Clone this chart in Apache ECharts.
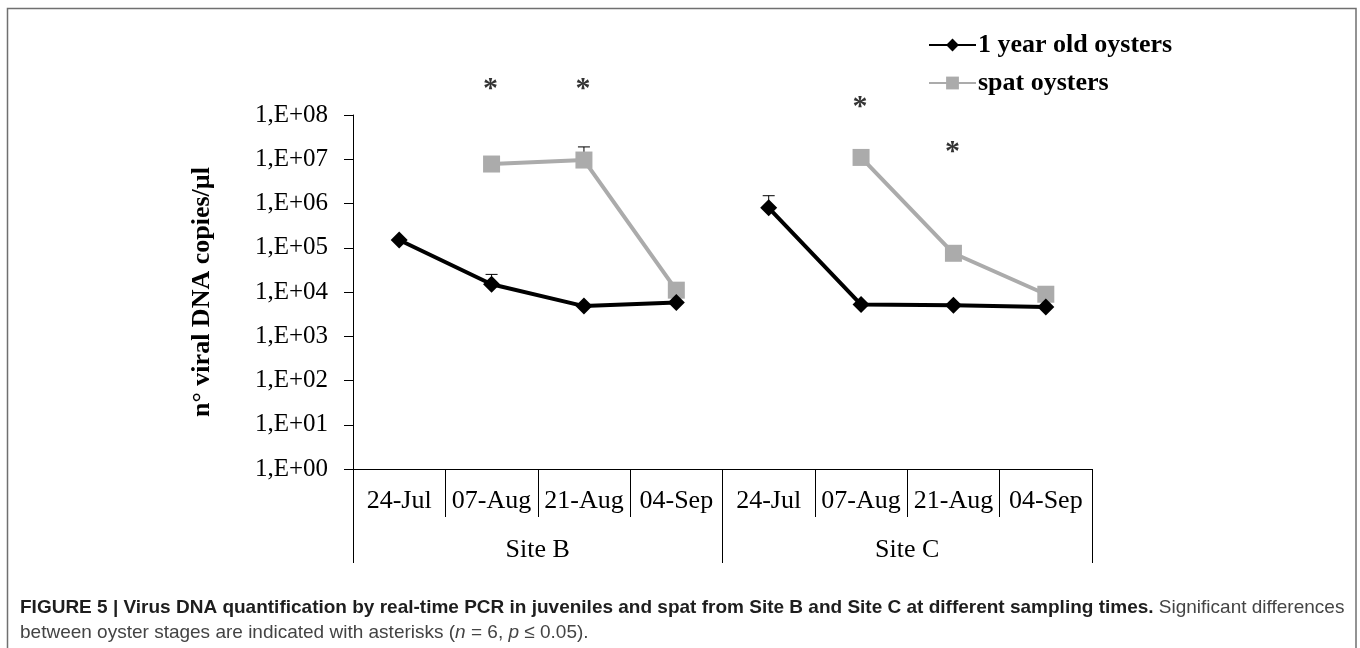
<!DOCTYPE html>
<html>
<head>
<meta charset="utf-8">
<script src="https://cdn.jsdelivr.net/npm/echarts@6/dist/echarts.min.js"></script>
<style>html,body{margin:0;padding:0;background:#fff}#c{width:1360px;height:648px}</style>
</head>
<body>
<div id="c"></div>
<script>
// ---- data ----
const dates = ['24-Jul','07-Aug','21-Aug','04-Sep','24-Jul','07-Aug','21-Aug','04-Sep'];
const sites = ['Site B','Site C'];
const yTickLabels = ['1,E+00','1,E+01','1,E+02','1,E+03','1,E+04','1,E+05','1,E+06','1,E+07','1,E+08'];
const oneYearB = [1.5e5, 1.5e4, 4.8e3, 5.8e3, null, null, null, null];
const oneYearC = [null, null, null, null, 8.0e5, 5.2e3, 5.0e3, 4.6e3];
const spat     = [null, 7.8e6, 9.6e6, 1.1e4, null, 1.1e7, 7.5e4, 8.9e3];
const oneYearUpper = [null, 2.5e4, null, null, 1.5e6, null, null, null];
const spatUpper    = [null, null, 1.9e7, 1.6e4, null, null, null, null];
const asterisks = [[1, 5.2e8], [2, 5.2e8], [5, 2.0e8], [6, 2.0e7]];

const serif = '"Liberation Serif","Times New Roman",serif';
const sans = '"Liberation Sans",Arial,Helvetica,sans-serif';
const errData = [];
oneYearB.forEach((v,i)=>{ const val = v!=null?v:oneYearC[i]; if(oneYearUpper[i]!=null) errData.push([i, val, oneYearUpper[i]]); });
spat.forEach((v,i)=>{ if(spatUpper[i]!=null) errData.push([i, v, spatUpper[i]]); });

const chart = echarts.init(document.getElementById('c'));
chart.setOption({
  animation: false,
  backgroundColor: '#fff',
  grid: { left: 353, right: 268, top: 115, bottom: 179 },
  legend: {
    orient: 'vertical', left: 923, top: 27, itemWidth: 47, itemHeight: 16, itemGap: 12,
    textStyle: { fontFamily: serif, fontWeight: 'bold', fontSize: 26, color: '#000', padding: [0,0,0,-3] },
    data: ['1 year old oysters', 'spat oysters']
  },
  xAxis: [
    { type: 'category', data: dates, position: 'bottom',
      axisLine: { lineStyle: { color: '#000', width: 1 } },
      axisTick: { show: true, interval: 0, length: 48, lineStyle: { color: '#000' } },
      axisLabel: { interval: 0, margin: 19, fontFamily: serif, fontSize: 26, color: '#000' } },
    { type: 'category', data: sites, position: 'bottom', offset: 0,
      axisLine: { show: false },
      axisTick: { show: true, interval: 0, length: 94, lineStyle: { color: '#000' } },
      axisLabel: { interval: 0, margin: 68, fontFamily: serif, fontSize: 26, color: '#000' } }
  ],
  yAxis: {
    type: 'log', logBase: 10, min: 1, max: 1e8, interval: 1, splitNumber: 8,
    name: 'n° viral DNA copies/µl', nameLocation: 'middle', nameGap: 138, nameRotate: 90,
    nameTextStyle: { fontFamily: serif, fontWeight: 'bold', fontSize: 26, color: '#000' },
    axisLine: { show: true, lineStyle: { color: '#000', width: 1 } },
    axisTick: { show: true, length: 9, lineStyle: { color: '#000' } },
    splitLine: { show: false },
    axisLabel: { margin: 25, fontFamily: serif, fontSize: 25, color: '#000',
      formatter: v => yTickLabels[Math.round(Math.log10(v))] }
  },
  series: [
    { name: '1 year old oysters', type: 'line', data: oneYearB, symbol: 'diamond', symbolSize: 17,
      itemStyle: { color: '#000' }, lineStyle: { color: '#000', width: 4 }, z: 3 },
    { name: '1 year old oysters', type: 'line', data: oneYearC, symbol: 'diamond', symbolSize: 17,
      itemStyle: { color: '#000' }, lineStyle: { color: '#000', width: 4 }, z: 3 },
    { name: 'spat oysters', type: 'line', data: spat, symbol: 'rect', symbolSize: 17,
      itemStyle: { color: '#ababab' }, lineStyle: { color: '#ababab', width: 4 }, z: 2 },
    { type: 'custom', data: errData, z: 1, silent: true,
      renderItem: (params, api) => {
        const p0 = api.coord([api.value(0), api.value(1)]);
        const p1 = api.coord([api.value(0), api.value(2)]);
        return { type: 'group', children: [
          { type: 'line', shape: { x1: p0[0], y1: p0[1], x2: p1[0], y2: p1[1] }, style: { stroke: '#000', lineWidth: 1 } },
          { type: 'line', shape: { x1: p1[0]-6, y1: p1[1], x2: p1[0]+6, y2: p1[1] }, style: { stroke: '#000', lineWidth: 1 } }
        ]};
      } },
    { type: 'scatter', data: asterisks, symbolSize: 0, clip: false, silent: true,
      label: { show: true, position: 'inside', formatter: '*', fontFamily: serif, fontWeight: 'bold', fontSize: 30, color: '#000', offset: [-1, 6] } }
  ],
  graphic: [
    { type: 'rect', shape: { x: 7.5, y: 8.5, width: 1348.5, height: 700 }, style: { fill: 'none', stroke: '#707070', lineWidth: 1.5 }, silent: true },
    { type: 'text', left: 20, top: 598, style: {
        text: '{b|FIGURE 5 | Virus DNA quantification by real-time PCR in juveniles and spat from Site B and Site C at different sampling times.}{n| Significant differences}\n{n|between oyster stages are indicated with asterisks (}{i|n}{n| = 6, }{i|p}{n| ≤ 0.05).}',
        rich: {
          b: { fontFamily: sans, fontWeight: 'bold', fontSize: 19, fill: '#1e1e1e', lineHeight: 25 },
          n: { fontFamily: sans, fontSize: 19, fill: '#444', lineHeight: 25 },
          i: { fontFamily: sans, fontStyle: 'italic', fontSize: 19, fill: '#444', lineHeight: 25 }
        } } }
  ]
});
</script>
</body>
</html>
